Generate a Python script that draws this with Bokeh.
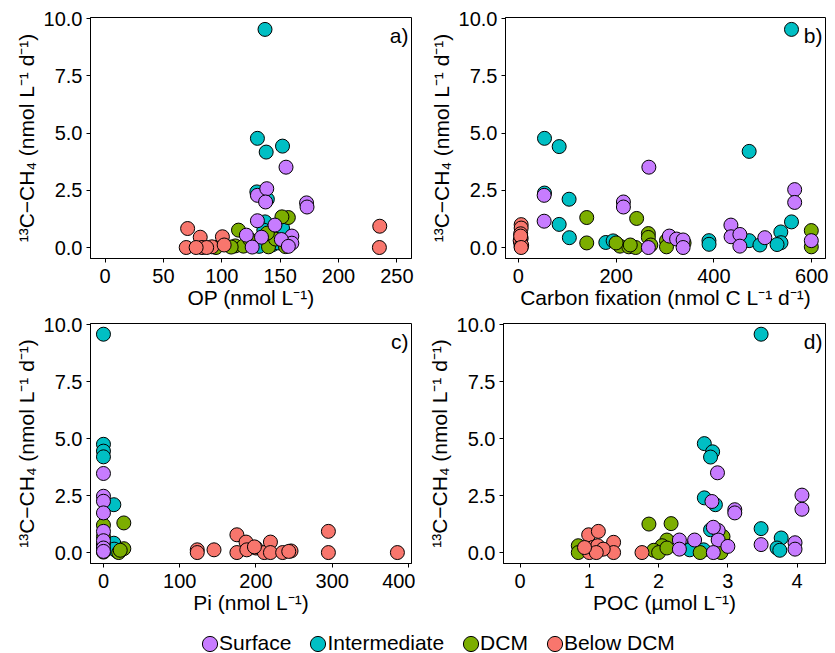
from bokeh.plotting import figure
from bokeh.models import Range1d, FixedTicker, NumeralTickFormatter, Label, Legend, LegendItem
from bokeh.layouts import column, row
from bokeh.embed import file_html
from bokeh.resources import INLINE

# ---------------- data ----------------
groups = ["Surface", "Intermediate", "DCM", "Below DCM"]
colors = {"Surface": "#C77CFF", "Intermediate": "#00BFC4", "DCM": "#7CAE00", "Below DCM": "#F8766D"}
draw_order = ["Intermediate", "DCM", "Below DCM", "Surface"]

# panel a: OP (nmol L-1)
a_surface_x = [155, 130.5, 138.5, 137.5, 172.6, 173, 130.5, 145.5, 121, 160, 160, 151, 134, 126, 157]
a_surface_y = [3.51, 2.28, 2.57, 1.99, 1.95, 1.77, 1.17, 0.98, 0.54, 0.50, 0.19, 0.35, 0.45, 0.02, 0.05]
a_inter_x = [137, 130.5, 138, 152, 130, 139, 137, 136, 129, 143, 152, 148, 132]
a_inter_y = [9.53, 4.77, 4.17, 4.43, 2.43, 2.11, 1.12, 0.76, 0.25, 0.11, 0.85, 0.20, 0.05]
a_dcm_x = [157, 151.5, 114.3, 111.5, 118.5, 95, 140, 146, 154.5, 124, 139, 108]
a_dcm_y = [1.31, 1.34, 0.76, 0.07, 0.06, 0.00, 0.03, 0.37, 0.04, 0.35, 0.63, 0.02]
a_below_x = [70.7, 69.5, 81.5, 83, 91.5, 100.5, 102, 87, 78, 235.3, 235]
a_below_y = [0.83, 0.00, 0.45, 0.00, 0.03, 0.47, 0.11, 0.00, 0.00, 0.93, 0.00]

# panel b: Carbon fixation (nmol C L-1 d-1)
b_surface_x = [53, 53, 267, 215, 215, 565, 565, 434.7, 435, 453, 453, 504, 308.8, 323.7, 337, 337, 266, 599]
b_surface_y = [2.28, 1.15, 3.51, 1.99, 1.77, 2.53, 1.97, 0.98, 0.47, 0.57, 0.06, 0.43, 0.50, 0.37, 0.33, 0.00, 0.00, 0.30]
b_inter_x = [558.5, 53.7, 83.7, 472, 53.7, 104, 83.7, 104.5, 179, 194, 389.8, 390, 472, 494, 536.7, 537, 558.5, 529]
b_inter_y = [9.53, 4.77, 4.41, 4.20, 2.38, 2.11, 1.01, 0.43, 0.22, 0.29, 0.30, 0.14, 0.30, 0.11, 0.68, 0.21, 1.12, 0.13]
b_dcm_x = [140, 242, 140, 208, 226, 240, 200, 266, 266, 271, 303, 303, 339, 599, 599, 229]
b_dcm_y = [1.31, 1.27, 0.20, 0.06, 0.03, 0.00, 0.20, 0.61, 0.44, 0.11, 0.30, 0.03, 0.20, 0.74, 0.03, 0.11]
b_below_x = [6, 6, 5, 6, 5, 6, 4, 7, 5, 6]
b_below_y = [1.00, 0.85, 0.60, 0.40, 0.20, 0.03, 0.30, 0.10, 0.50, 0.00]

# panel c: Pi (nmol L-1)
c_surface_x = [0, 0, 0, 0, 0, 0, 0, 0]
c_surface_y = [3.47, 2.47, 2.25, 1.74, 0.93, 0.52, 0.20, 0.05]
c_inter_x = [0, 0, 0, 0, 13.6, 13.6, 18, 0, 14]
c_inter_y = [9.58, 4.75, 4.45, 4.20, 2.10, 0.41, 0.05, 0.30, 0.15]
c_dcm_x = [26.7, 0, 26.7, 20, 0, 0, 0, 22]
c_dcm_y = [1.30, 1.20, 0.17, 0.00, 0.02, 0.38, 0.70, 0.10]
c_below_x = [123, 123, 145, 175, 175, 187, 188, 200, 211, 219, 219, 235, 246, 295, 295, 385.5, 198, 243]
c_below_y = [0.12, 0.00, 0.12, 0.78, 0.00, 0.46, 0.12, 0.20, 0.00, 0.46, 0.00, 0.00, 0.07, 0.93, 0.00, 0.00, 0.25, 0.05]

# panel d: POC (umol L-1)
d_surface_x = [2.85, 2.77, 3.1, 3.1, 4.07, 4.07, 3.48, 3.97, 3.97, 2.3, 2.3, 2.52, 2.86, 2.86, 3.0, 2.79, 2.79]
d_surface_y = [3.50, 2.24, 1.88, 1.74, 2.52, 1.90, 0.35, 0.43, 0.15, 0.55, 0.15, 0.55, 0.97, 0.55, 0.27, 0.00, 1.11]
d_inter_x = [3.48, 2.66, 2.78, 2.75, 2.66, 2.82, 2.75, 3.48, 3.77, 3.71, 3.75, 2.5, 2.65, 2.45]
d_inter_y = [9.58, 4.78, 4.42, 4.19, 2.40, 2.10, 1.00, 1.05, 0.64, 0.20, 0.10, 0.30, 0.12, 0.12]
d_dcm_x = [1.86, 2.18, 2.12, 2.05, 1.93, 2.0, 2.12, 0.84, 0.84, 2.6, 2.9, 2.93]
d_dcm_y = [1.25, 1.27, 0.55, 0.30, 0.10, 0.00, 0.20, 0.30, 0.00, 0.00, 0.00, 0.70]
d_below_x = [0.99, 1.13, 1.0, 1.05, 1.12, 1.35, 1.35, 1.2, 1.1, 1.76, 0.93]
d_below_y = [0.78, 0.93, 0.00, 0.22, 0.30, 0.45, 0.00, 0.15, 0.00, 0.00, 0.22]

y_ticks = [0, 2.5, 5, 7.5, 10]
a_ticks = [0, 50, 100, 150, 200, 250]
b_ticks = [0, 200, 400, 600]
c_ticks = [0, 100, 200, 300, 400]
d_ticks = [0, 1, 2, 3, 4]

y_label = "\u00b9\u00b3C\u2212CH\u2084 (nmol L\u207b\u00b9 d\u207b\u00b9)"
a_label = "OP (nmol L\u207b\u00b9)"
b_label = "Carbon fixation (nmol C L\u207b\u00b9 d\u207b\u00b9)"
c_label = "Pi (nmol L\u207b\u00b9)"
d_label = "POC (\u00b5mol L\u207b\u00b9)"

FONT = "Liberation Sans"
Y_RANGE = (-0.48, 10.05)


def make_panel(data, xr, xticks, xlabel, letter, width, height, left, right, top, bottom):
    p = figure(width=width, height=height,
               x_range=Range1d(*xr), y_range=Range1d(*Y_RANGE),
               output_backend="svg", toolbar_location=None,
               min_border_left=left, min_border_right=right,
               min_border_top=top, min_border_bottom=bottom,
               background_fill_color="white", border_fill_color="white")
    p.xgrid.visible = False
    p.ygrid.visible = False
    p.outline_line_color = "black"
    p.outline_line_alpha = 1.0
    p.outline_line_width = 1

    p.xaxis.ticker = FixedTicker(ticks=xticks)
    p.yaxis.ticker = FixedTicker(ticks=y_ticks)
    p.yaxis.formatter = NumeralTickFormatter(format="0.0")
    for ax in (p.xaxis, p.yaxis):
        ax.major_tick_out = 4
        ax.major_tick_in = 0
        ax.minor_tick_out = 0
        ax.minor_tick_in = 0
        ax.axis_line_color = "black"
        ax.major_tick_line_color = "black"
        ax.major_label_text_font = FONT
        ax.major_label_text_font_size = "20px"
        ax.major_label_text_color = "black"
        ax.axis_label_text_font = FONT
        ax.axis_label_text_font_size = "21px"
        ax.axis_label_text_font_style = "normal"
        ax.axis_label_text_color = "black"
    p.xaxis.major_label_standoff = 6
    p.xaxis.axis_label_standoff = 0
    p.yaxis.major_label_standoff = 4
    p.yaxis.axis_label_standoff = 3
    p.xaxis.axis_label = xlabel
    p.yaxis.axis_label = y_label

    for g in draw_order:
        xs, ys = data[g]
        p.scatter(xs, ys, size=14, marker="circle", fill_color=colors[g],
                  line_color="black", line_width=1)

    p.add_layout(Label(x=xr[1], y=Y_RANGE[1], x_offset=-3, y_offset=-6, text=letter,
                       text_align="right", text_baseline="top",
                       text_font=FONT, text_font_size="21px", text_color="black"))
    return p


# top row: frame 17..258 ; bottom row: frame 323..563
pa = make_panel({"Surface": (a_surface_x, a_surface_y), "Intermediate": (a_inter_x, a_inter_y),
                 "DCM": (a_dcm_x, a_dcm_y), "Below DCM": (a_below_x, a_below_y)},
                (-12.5, 262.5), a_ticks, a_label, "a)", 415, 312, 90, 4, 17, 54)
pb = make_panel({"Surface": (b_surface_x, b_surface_y), "Intermediate": (b_inter_x, b_inter_y),
                 "DCM": (b_dcm_x, b_dcm_y), "Below DCM": (b_below_x, b_below_y)},
                (-26, 628), b_ticks, b_label, "b)", 420, 312, 90, 10, 17, 54)
pc = make_panel({"Surface": (c_surface_x, c_surface_y), "Intermediate": (c_inter_x, c_inter_y),
                 "DCM": (c_dcm_x, c_dcm_y), "Below DCM": (c_below_x, c_below_y)},
                (-17, 404), c_ticks, c_label, "c)", 415, 311, 90, 4, 11, 60)
pd_ = make_panel({"Surface": (d_surface_x, d_surface_y), "Intermediate": (d_inter_x, d_inter_y),
                  "DCM": (d_dcm_x, d_dcm_y), "Below DCM": (d_below_x, d_below_y)},
                 (-0.24, 4.41), d_ticks, d_label, "d)", 420, 311, 88, 10, 11, 60)

# legend strip
leg = figure(width=835, height=30, min_border=0,
             x_range=Range1d(0, 1), y_range=Range1d(0, 1),
             x_axis_type=None, y_axis_type=None,
             output_backend="svg", toolbar_location=None)
leg.outline_line_color = None
leg.xgrid.visible = False
leg.ygrid.visible = False
items = []
for g in groups:
    # key swatch only: an off-frame ellipse whose screen size gives a round legend key
    r = leg.ellipse(x=[-5], y=[-5], width=14, height=14,
                    width_units="screen", height_units="screen",
                    fill_color=colors[g], line_color="black", line_width=1)
    items.append(LegendItem(label=g, renderers=[r]))
legend = Legend(items=items, orientation="horizontal", location=(200, -2),
                glyph_width=19, glyph_height=19, label_standoff=0, spacing=17,
                padding=0, margin=0, border_line_color=None, background_fill_alpha=0,
                label_text_font=FONT, label_text_font_size="21px", label_text_color="black")
leg.add_layout(legend)

layout = column(row(pa, pb), row(pc, pd_), leg)

open("out.html", "w").write(file_html(layout, INLINE))
